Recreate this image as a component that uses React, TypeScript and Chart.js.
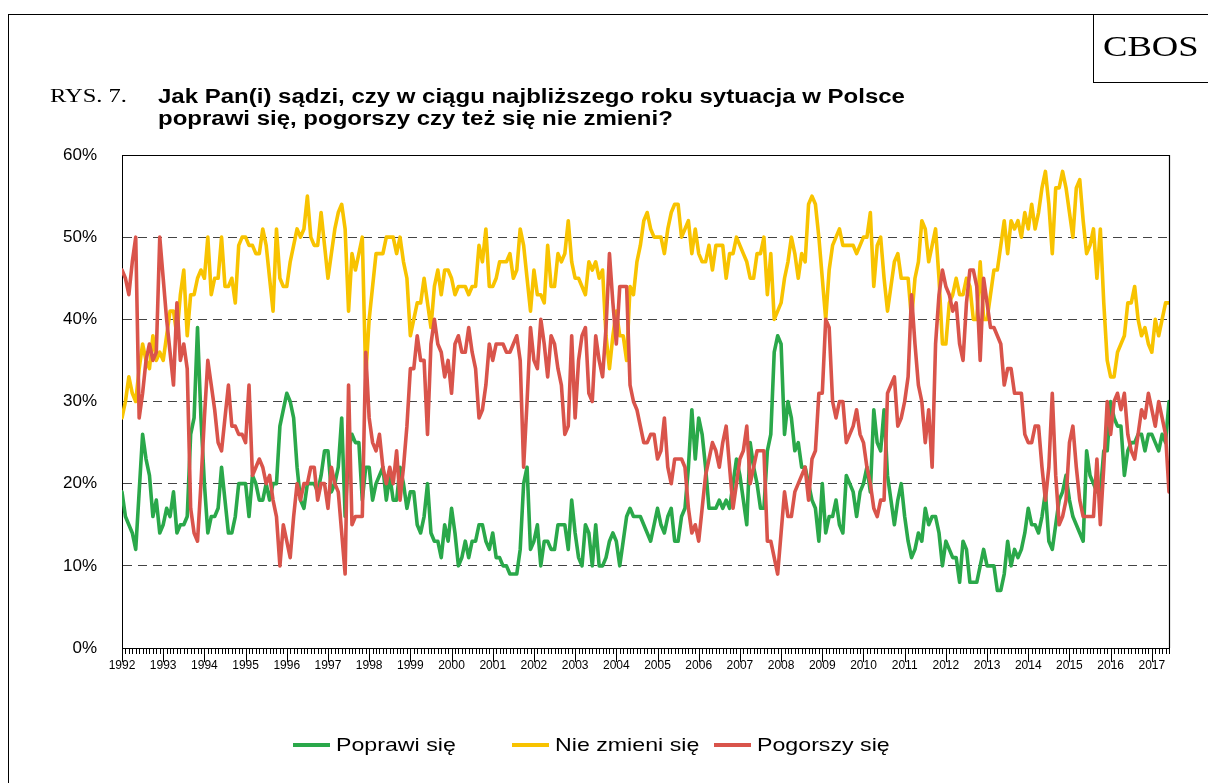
import React, { useEffect, useRef } from 'react';
import { Chart, registerables } from 'chart.js';

Chart.register(...registerables);

// ---- data (monthly, Jan 1992 – Jun 2017) ----
const years = ['1992', '1993', '1994', '1995', '1996', '1997', '1998', '1999', '2000', '2001', '2002', '2003', '2004', '2005', '2006', '2007', '2008', '2009', '2010', '2011', '2012', '2013', '2014', '2015', '2016', '2017'];

const yTicks = [0, 10, 20, 30, 40, 50, 60];

const seriesNames = ['Poprawi się', 'Nie zmieni się', 'Pogorszy się'];

const poprawi = [
  19, 16, 15, 14, 12, 19, 26, 23, 21, 16, 18, 14,
  15, 17, 16, 19, 14, 15, 15, 16, 26, 28, 39, 28,
  20, 14, 16, 16, 17, 22, 18, 14, 14, 16, 20, 20,
  20, 16, 21, 20, 18, 18, 20, 18, 20, 20, 27, 29,
  31, 30, 28, 22, 18, 17, 20, 20, 20, 19, 21, 24,
  24, 19, 20, 22, 28, 16, 24, 26, 25, 25, 18, 22,
  22, 18, 20, 21, 22, 18, 21, 18, 18, 22, 20, 17,
  19, 19, 15, 14, 16, 20, 14, 13, 13, 11, 15, 13,
  17, 14, 10, 11, 13, 11, 13, 13, 15, 15, 13, 12,
  14, 11, 11, 10, 10, 9, 9, 9, 12, 20, 22, 12,
  13, 15, 10, 13, 13, 12, 12, 15, 15, 15, 12, 18,
  14, 11, 10, 15, 14, 10, 15, 10, 10, 11, 13, 14,
  13, 10, 13, 16, 17, 16, 16, 16, 15, 14, 13, 15,
  17, 15, 14, 16, 17, 13, 13, 16, 17, 22, 29, 23,
  28, 26, 22, 17, 17, 17, 18, 17, 18, 17, 20, 23,
  21, 18, 15, 25, 22, 20, 17, 17, 24, 26, 36, 38,
  37, 26, 30, 28, 24, 25, 22, 22, 20, 18, 17, 13,
  20, 14, 16, 16, 18, 15, 14, 21, 20, 19, 16, 19,
  20, 22, 19, 29, 25, 24, 29, 21, 18, 15, 18, 20,
  16, 13, 11, 12, 14, 13, 17, 15, 16, 16, 14, 10,
  13, 12, 11, 11, 8, 13, 12, 8, 8, 8, 10, 12,
  10, 10, 10, 7, 7, 9, 13, 10, 12, 11, 12, 14,
  17, 15, 15, 14, 16, 19, 13, 12, 15, 18, 19, 21,
  18, 16, 15, 14, 13, 24, 21, 20, 19, 19, 24, 24,
  30, 28, 27, 27, 21, 24, 25, 25, 26, 26, 24, 26,
  26, 25, 24, 26, 25, 30,
];

const nieZmieni = [
  28, 30, 33, 31, 30, 34, 37, 35, 34, 38, 35, 36,
  35, 38, 41, 41, 38, 43, 46, 38, 43, 43, 45, 46,
  45, 50, 43, 45, 45, 50, 44, 44, 45, 42, 49, 50,
  50, 49, 49, 48, 48, 51, 49, 45, 41, 51, 45, 44,
  44, 47, 49, 51, 50, 51, 55, 50, 49, 49, 53, 49,
  45, 48, 51, 53, 54, 51, 41, 48, 46, 48, 50, 33,
  40, 44, 48, 48, 48, 50, 50, 50, 48, 50, 47, 45,
  38, 40, 42, 42, 45, 42, 39, 44, 46, 43, 46, 46,
  45, 43, 44, 44, 44, 43, 44, 44, 49, 47, 51, 44,
  44, 45, 47, 47, 47, 48, 45, 46, 51, 49, 45, 41,
  46, 43, 43, 42, 49, 44, 44, 48, 47, 48, 52, 47,
  45, 45, 44, 43, 47, 46, 47, 45, 46, 38, 34, 38,
  41, 38, 38, 35, 44, 43, 47, 49, 52, 53, 51, 50,
  50, 50, 48, 51, 53, 54, 54, 50, 51, 52, 48, 51,
  48, 47, 47, 49, 46, 49, 49, 49, 45, 48, 48, 50,
  49, 48, 47, 45, 45, 48, 48, 50, 43, 48, 40, 41,
  42, 45, 47, 50, 48, 45, 48, 47, 54, 55, 54, 50,
  45, 40, 46, 49, 50, 51, 49, 49, 49, 49, 48, 49,
  50, 50, 53, 44, 49, 50, 45, 41, 44, 47, 48, 45,
  45, 45, 40, 45, 47, 52, 51, 47, 49, 51, 45, 37,
  37, 42, 43, 45, 43, 43, 45, 44, 40, 40, 47, 40,
  40, 43, 46, 46, 49, 52, 48, 52, 51, 52, 50, 53,
  51, 54, 51, 53, 56, 58, 54, 48, 56, 56, 58, 56,
  53, 50, 56, 57, 52, 48, 49, 51, 45, 51, 42, 35,
  33, 33, 36, 37, 38, 42, 42, 44, 40, 38, 39, 37,
  36, 40, 38, 40, 42, 42,
];

const pogorszy = [
  46, 45, 43, 47, 50, 28, 31, 35, 37, 35, 36, 50,
  45, 40, 36, 32, 42, 35, 37, 34, 17, 14, 13, 20,
  28, 35, 32, 29, 25, 24, 28, 32, 27, 27, 26, 26,
  25, 32, 21, 22, 23, 22, 20, 21, 18, 16, 10, 15,
  13, 11, 16, 20, 18, 20, 20, 22, 22, 18, 20, 20,
  17, 22, 20, 19, 14, 9, 32, 15, 16, 16, 16, 36,
  28, 25, 24, 26, 22, 20, 22, 20, 24, 18, 22, 27,
  34, 34, 38, 35, 35, 26, 37, 40, 37, 36, 33, 35,
  31, 37, 38, 36, 36, 39, 36, 34, 28, 29, 32, 37,
  35, 37, 37, 37, 36, 36, 37, 38, 35, 22, 30, 39,
  35, 34, 40, 37, 33, 38, 37, 34, 32, 26, 27, 38,
  28, 35, 38, 39, 31, 30, 38, 35, 33, 39, 48, 42,
  37, 44, 44, 44, 32, 30, 29, 27, 25, 25, 26, 26,
  23, 24, 28, 22, 20, 23, 23, 23, 22, 17, 14, 15,
  13, 17, 21, 23, 25, 24, 22, 25, 27, 22, 17, 20,
  23, 24, 27, 20, 22, 24, 24, 24, 13, 13, 11, 9,
  14, 19, 16, 16, 19, 20, 21, 22, 18, 23, 24, 31,
  31, 40, 39, 30, 28, 30, 30, 25, 26, 27, 29, 26,
  25, 22, 20, 17, 16, 18, 18, 31, 32, 33, 27, 28,
  30, 33, 43, 37, 32, 30, 25, 29, 22, 37, 43, 46,
  44, 43, 41, 42, 37, 35, 42, 46, 46, 44, 35, 45,
  42, 39, 39, 38, 37, 32, 34, 34, 31, 31, 31, 26,
  25, 25, 27, 27, 22, 18, 22, 31, 21, 15, 16, 18,
  25, 27, 22, 18, 16, 16, 16, 16, 23, 15, 22, 30,
  26, 30, 31, 29, 31, 26, 24, 23, 26, 29, 28, 31,
  29, 27, 30, 28, 26, 19,
];

const colors = ['#2aa84a', '#f8c300', '#d9544b'];

const toPoints = (arr: number[]) => arr.map((v, i) => ({ x: i, y: v }));

// draws monthly / yearly tick marks on the x scale and the plot frame
const axisDecor = {
  id: 'axisDecor',
  afterDraw(chart: any) {
    const { ctx, chartArea } = chart;
    const x = chart.scales.x;
    ctx.save();
    ctx.strokeStyle = '#000';
    ctx.lineWidth = 1;
    const n = poprawi.length;
    for (let m = 0; m < n; m++) {
      const px = Math.round(x.getPixelForValue(m)) + 0.5;
      const len = m % 12 === 0 ? 14 : 6;
      ctx.beginPath();
      ctx.moveTo(px, chartArea.bottom);
      ctx.lineTo(px, chartArea.bottom + len);
      ctx.stroke();
    }
    ctx.lineWidth = 1.2;
    ctx.beginPath();
    ctx.moveTo(chartArea.left, Math.round(chartArea.top) + 0.5);
    ctx.lineTo(Math.round(chartArea.right) + 0.5, Math.round(chartArea.top) + 0.5);
    ctx.lineTo(Math.round(chartArea.right) + 0.5, chartArea.bottom);
    ctx.stroke();
    ctx.restore();
  },
};

const sans = '"Liberation Sans", Arial, sans-serif';
const serif = '"Liberation Serif", "Times New Roman", serif';

export default function App() {
  const ref = useRef<HTMLCanvasElement>(null);

  useEffect(() => {
    if (!ref.current) return;
    const series = [poprawi, nieZmieni, pogorszy];
    const chart = new Chart(ref.current, {
      type: 'line',
      data: {
        datasets: series.map((s, i) => ({
          label: seriesNames[i],
          data: toPoints(s),
          borderColor: colors[i],
          backgroundColor: colors[i],
          borderWidth: 3.6,
          pointRadius: 0,
          tension: 0,
          borderJoinStyle: 'round' as const,
          borderCapStyle: 'round' as const,
          order: 2 - i,
        })),
      },
      options: {
        responsive: false,
        animation: false,
        devicePixelRatio: 1,
        layout: { padding: { left: 0, right: 39, top: 155, bottom: 95 } },
        plugins: { legend: { display: false }, tooltip: { enabled: false } },
        scales: {
          x: {
            type: 'linear',
            min: 0,
            max: poprawi.length - 1,
            afterFit: (s: any) => { s.height = 40; },
            grid: { display: false, drawTicks: false },
            border: { display: true, color: '#000', width: 1 },
            ticks: {
              stepSize: 12,
              includeBounds: false,
              autoSkip: false,
              maxRotation: 0,
              padding: 10,
              color: '#000',
              font: { family: sans, size: 12 },
              callback: (v: any) => years[Math.round(Number(v) / 12)] ?? '',
            },
          },
          y: {
            min: yTicks[0],
            max: yTicks[yTicks.length - 1],
            afterFit: (s: any) => { s.width = 122; },
            grid: { color: '#444', lineWidth: 1, drawTicks: false },
            border: { display: true, color: '#000', width: 1, dash: [9, 6] },
            ticks: {
              stepSize: 10,
              padding: 25,
              color: '#000',
              font: { family: sans, size: 17 },
              callback: (v: any) => v + '%',
            },
          },
        },
      },
      plugins: [axisDecor],
    });
    return () => chart.destroy();
  }, []);

  const legendItems = [
    { x: 293, tx: 336 },
    { x: 512, tx: 555 },
    { x: 714, tx: 757 },
  ];

  return (
    <div style={{ position: 'absolute', left: 0, top: 0, width: 1208, height: 783, overflow: 'hidden', background: '#fff' }}>
      <canvas ref={ref} width={1208} height={783} style={{ position: 'absolute', left: 0, top: 0 }} />
      <div style={{ position: 'absolute', left: 8, top: 14, width: 1300, height: 900, borderLeft: '1.5px solid #000', borderTop: '1.5px solid #000' }} />
      <div style={{ position: 'absolute', left: 1093, top: 14, width: 130, height: 68, borderLeft: '1.5px solid #000', borderBottom: '1.5px solid #000' }} />
      <div style={{ position: 'absolute', left: 1103, top: 28, fontFamily: serif, fontSize: 30, lineHeight: '36px', transform: 'scaleX(1.22)', transformOrigin: 'left top', whiteSpace: 'nowrap' }}>CBOS</div>
      <div style={{ position: 'absolute', left: 50, top: 85, fontFamily: serif, fontSize: 18, lineHeight: '22px', transform: 'scaleX(1.36)', transformOrigin: 'left top', whiteSpace: 'nowrap' }}>RYS. 7.</div>
      <div style={{ position: 'absolute', left: 158, top: 85, fontFamily: sans, fontWeight: 'bold', fontSize: 20, lineHeight: '22px', transform: 'scaleX(1.2)', transformOrigin: 'left top', whiteSpace: 'nowrap' }}>
        <div>Jak Pan(i) sądzi, czy w ciągu najbliższego roku sytuacja w Polsce</div>
        <div>poprawi się, pogorszy czy też się nie zmieni?</div>
      </div>
      {legendItems.map((it, i) => (
        <React.Fragment key={i}>
          <div style={{ position: 'absolute', left: it.x, top: 743, width: 37, height: 4, background: colors[i] }} />
          <div style={{ position: 'absolute', left: it.tx, top: 733, fontFamily: sans, fontSize: 19, lineHeight: '24px', transform: 'scaleX(1.22)', transformOrigin: 'left top', whiteSpace: 'nowrap' }}>{seriesNames[i]}</div>
        </React.Fragment>
      ))}
    </div>
  );
}
